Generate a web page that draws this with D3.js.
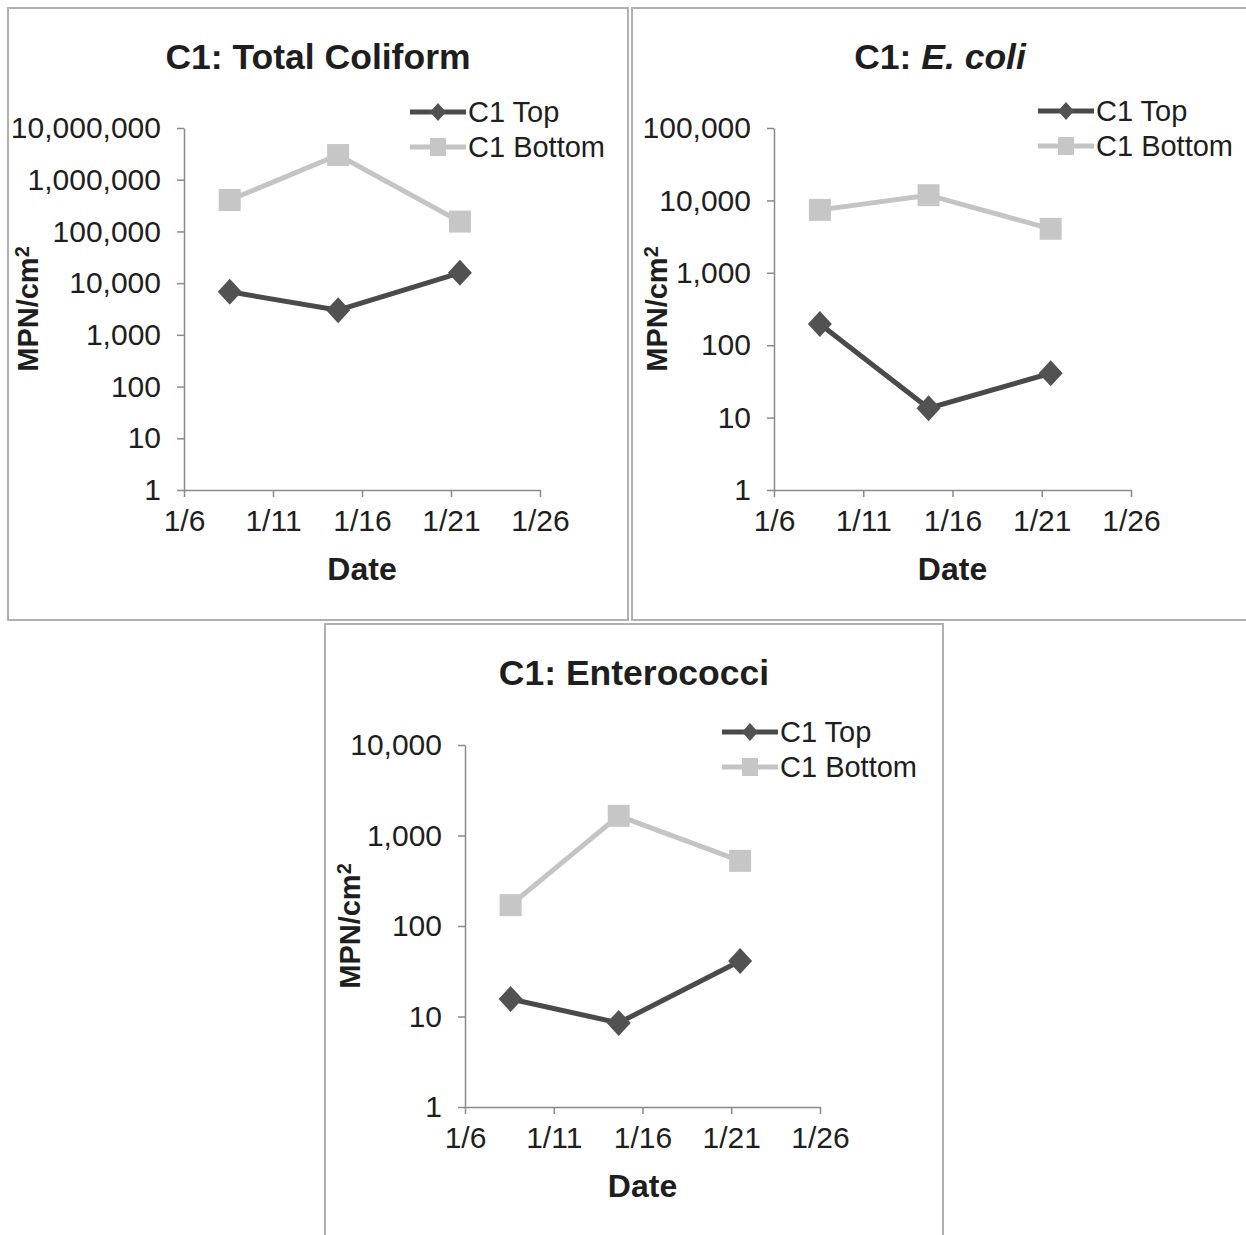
<!DOCTYPE html>
<html>
<head>
<meta charset="utf-8">
<script src="https://cdn.jsdelivr.net/npm/d3@7"></script>
<style>
  body { margin: 0; background: #fff; }
  text { font-family: "Liberation Sans", Arial, Helvetica, sans-serif; fill: #1e1e1e; }
  .axis path, .axis line { stroke: #8a8a8a; stroke-width: 1.5; }
  .axis text { font-size: 30px; fill: #1e1e1e; }
</style>
</head>
<body>
<div id="chart"></div>
<script>
// sampling dates (three visits)
var sampleDates = ["2013-01-08 13:40", "2013-01-14 15:50", "2013-01-21 12:00"];
var dateTicks = ["2013-01-06", "2013-01-11", "2013-01-16", "2013-01-21", "2013-01-26"];
var seriesNames = ["C1 Top", "C1 Bottom"];

// MPN/cm2 values
var coliformTop = [6800, 3000, 15800];
var coliformBottom = [405000, 3000000, 155000];
var ecoliTop = [196, 13.5, 41];
var ecoliBottom = [7400, 11800, 4050];
var enteroTop = [15.6, 8.5, 41];
var enteroBottom = [170, 1650, 525];

var coliformTicks = [1, 10, 100, 1000, 10000, 100000, 1000000, 10000000];
var ecoliTicks = [1, 10, 100, 1000, 10000, 100000];
var enteroTicks = [1, 10, 100, 1000, 10000];

var parseT = d3.timeParse("%Y-%m-%d %H:%M");
var parseD = d3.timeParse("%Y-%m-%d");
var dates = sampleDates.map(parseT);
var xTicks = dateTicks.map(parseD);

var panels = [
  {title: ["C1: ", "Total Coliform", false], top: coliformTop, bottom: coliformBottom, ticks: coliformTicks,
   box: {x: 8, y: 8, w: 620, h: 612}, plot: {x: 184, y: 128, w: 356, h: 362}, legend: {x: 410, y: 112}, ylabX: 38},
  {title: ["C1: ", "E. coli", true], top: ecoliTop, bottom: ecoliBottom, ticks: ecoliTicks,
   box: {x: 632, y: 8, w: 616, h: 612}, plot: {x: 774, y: 128, w: 357, h: 362}, legend: {x: 1038, y: 111}, ylabX: 667},
  {title: ["C1: ", "Enterococci", false], top: enteroTop, bottom: enteroBottom, ticks: enteroTicks,
   box: {x: 325, y: 624, w: 618, h: 620}, plot: {x: 465, y: 745, w: 355, h: 362}, legend: {x: 722, y: 732}, ylabX: 360}
];

var topColor = "#4a4a4a", bottomColor = "#c4c4c4";

var svg = d3.select("#chart").append("svg")
    .attr("width", 1246)
    .attr("height", 1235);

function diamond(w, h) {
  return "M0," + (-h) + "L" + w + ",0L0," + h + "L" + (-w) + ",0Z";
}

panels.forEach(function(p) {
  var g = svg.append("g");

  g.append("rect")
      .attr("x", p.box.x).attr("y", p.box.y)
      .attr("width", p.box.w).attr("height", p.box.h)
      .attr("fill", "none")
      .attr("stroke", "#b0b0b0")
      .attr("stroke-width", 2);

  var x = d3.scaleTime()
      .domain([xTicks[0], xTicks[xTicks.length - 1]])
      .range([p.plot.x, p.plot.x + p.plot.w]);
  var y = d3.scaleLog()
      .domain([1, p.ticks[p.ticks.length - 1]])
      .range([p.plot.y + p.plot.h, p.plot.y]);

  // axes
  g.append("g")
      .attr("class", "axis")
      .attr("transform", "translate(0," + (p.plot.y + p.plot.h) + ")")
      .call(d3.axisBottom(x).tickValues(xTicks).tickFormat(d3.timeFormat("%-m/%-d"))
        .tickSize(7).tickSizeOuter(0).tickPadding(13));

  g.append("g")
      .attr("class", "axis")
      .attr("transform", "translate(" + p.plot.x + ",0)")
      .call(d3.axisLeft(y).tickValues(p.ticks).tickFormat(d3.format(","))
        .tickSize(7).tickSizeOuter(0).tickPadding(16));

  // title
  var t = g.append("text")
      .attr("x", p.box.x + p.box.w / 2)
      .attr("y", p.box.y + 61)
      .attr("text-anchor", "middle")
      .style("font-size", "35.5px")
      .style("font-weight", "bold");
  t.append("tspan").text(p.title[0]);
  t.append("tspan").text(p.title[1]).style("font-style", p.title[2] ? "italic" : "normal");

  // axis titles
  g.append("text")
      .attr("x", p.plot.x + p.plot.w / 2)
      .attr("y", p.plot.y + p.plot.h + 90)
      .attr("text-anchor", "middle")
      .style("font-size", "32px")
      .style("font-weight", "bold")
      .text("Date");

  var yl = g.append("text")
      .attr("transform", "translate(" + p.ylabX + "," + (p.plot.y + p.plot.h / 2) + ") rotate(-90)")
      .attr("text-anchor", "middle")
      .style("font-size", "29px")
      .style("font-weight", "bold");
  yl.append("tspan").text("MPN/cm");
  yl.append("tspan").attr("dy", "-0.45em").style("font-size", "20px").text("2");

  var line = d3.line()
      .x(function(d, i) { return x(dates[i]); })
      .y(function(d) { return y(d); });

  // bottom series
  g.append("path")
      .datum(p.bottom)
      .attr("d", line)
      .attr("fill", "none")
      .attr("stroke", bottomColor)
      .attr("stroke-width", 5);
  g.selectAll(".sq")
      .data(p.bottom)
      .enter().append("rect")
      .attr("x", function(d, i) { return x(dates[i]) - 11; })
      .attr("y", function(d) { return y(d) - 11; })
      .attr("width", 22).attr("height", 22)
      .attr("fill", "#c6c6c6");

  // top series
  g.append("path")
      .datum(p.top)
      .attr("d", line)
      .attr("fill", "none")
      .attr("stroke", topColor)
      .attr("stroke-width", 5);
  g.selectAll(".dm")
      .data(p.top)
      .enter().append("path")
      .attr("transform", function(d, i) { return "translate(" + x(dates[i]) + "," + y(d) + ")"; })
      .attr("d", diamond(12, 13))
      .attr("fill", "#525252");

  // legend
  var lg = g.append("g").attr("transform", "translate(" + p.legend.x + "," + p.legend.y + ")");
  seriesNames.forEach(function(name, i) {
    var row = lg.append("g").attr("transform", "translate(0," + (i * 35) + ")");
    row.append("line")
        .attr("x1", 0).attr("x2", 56).attr("y1", 0).attr("y2", 0)
        .attr("stroke", i === 0 ? topColor : bottomColor)
        .attr("stroke-width", 5);
    if (i === 0) {
      row.append("path").attr("transform", "translate(28,0)")
          .attr("d", diamond(8, 9)).attr("fill", "#525252");
    } else {
      row.append("rect").attr("x", 20).attr("y", -9).attr("width", 16).attr("height", 18)
          .attr("fill", "#c6c6c6");
    }
    row.append("text")
        .attr("x", 58)
        .attr("dy", "0.35em")
        .style("font-size", "29px")
        .text(name);
  });
});
</script>
</body>
</html>
